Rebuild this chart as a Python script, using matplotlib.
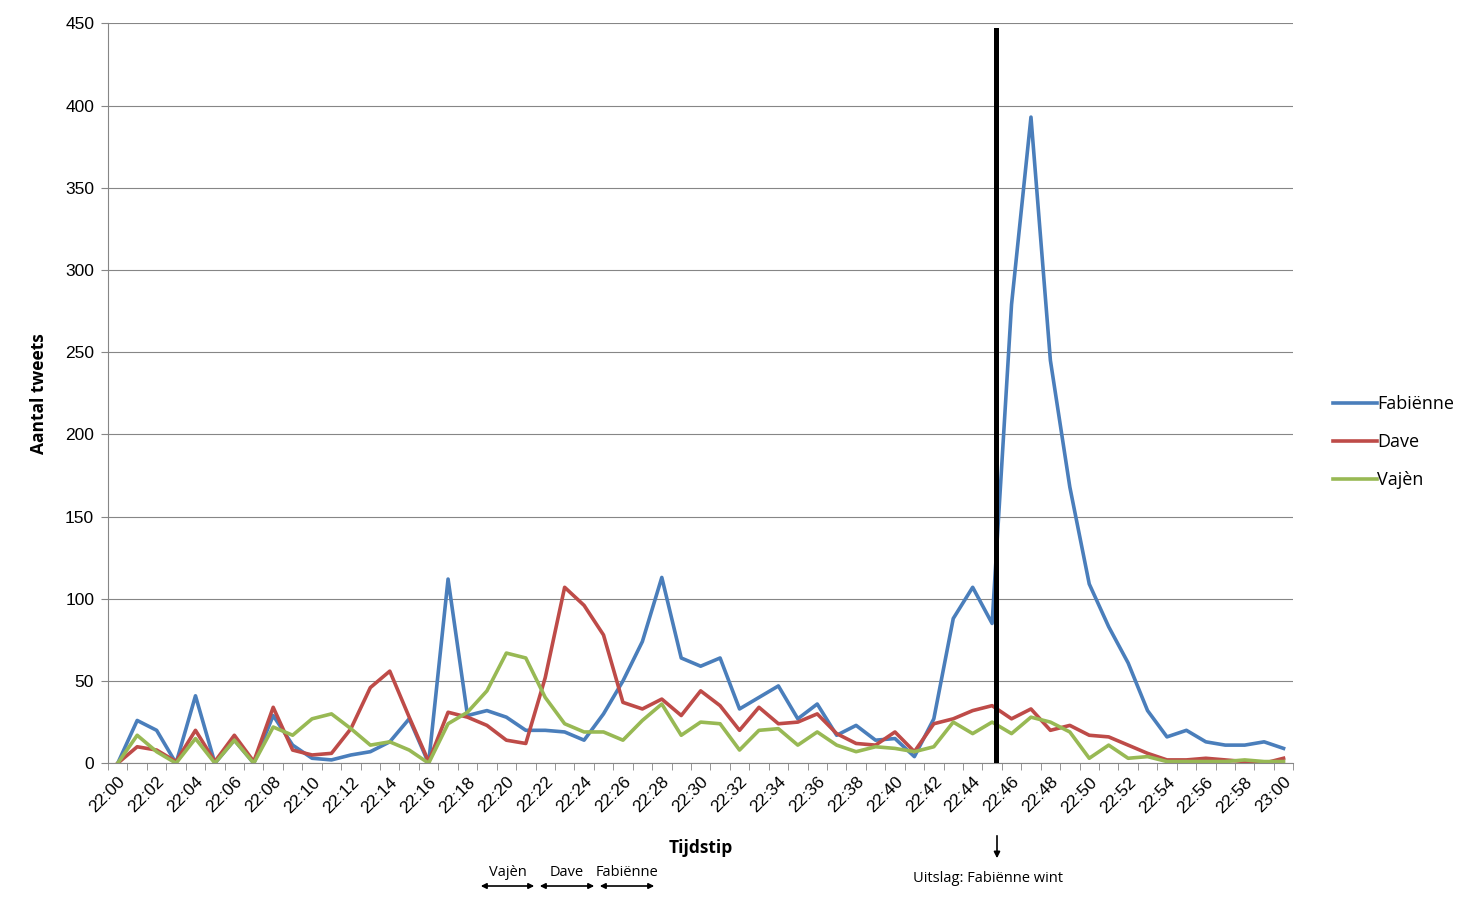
import numpy as np
import matplotlib.pyplot as plt

# tweets per minute, 22:00 - 23:00
fabienne = [0, 26, 20, 0, 41, 0, 14, 0, 29, 11, 3, 2, 5, 7, 13, 27, 0, 112, 29, 32,
            28, 20, 20, 19, 14, 30, 50, 74, 113, 64, 59, 64, 33, 40, 47, 27, 36, 17, 23, 14,
            15, 4, 27, 88, 107, 85, 279, 393, 245, 168, 109, 83, 61, 32, 16, 20, 13, 11, 11, 13,
            9]
dave = [0, 10, 8, 1, 20, 1, 17, 1, 34, 8, 5, 6, 21, 46, 56, 28, 1, 31, 28, 23,
        14, 12, 52, 107, 96, 78, 37, 33, 39, 29, 44, 35, 20, 34, 24, 25, 30, 18, 12, 11,
        19, 7, 24, 27, 32, 35, 27, 33, 20, 23, 17, 16, 11, 6, 2, 2, 3, 2, 1, 0,
        3]
vajen = [0, 17, 7, 0, 15, 0, 14, 0, 22, 17, 27, 30, 21, 11, 13, 8, 0, 24, 31, 44,
         67, 64, 40, 24, 19, 19, 14, 26, 36, 17, 25, 24, 8, 20, 21, 11, 19, 11, 7, 10,
         9, 7, 10, 25, 18, 25, 18, 28, 25, 19, 3, 11, 3, 4, 1, 1, 1, 1, 2, 1,
         1]
labels = ["22:%02d" % m for m in range(60)] + ["23:00"]
result_time = 45.2  # uitslag

x = np.arange(len(labels))

fig = plt.figure(figsize=(14.76, 9), dpi=100)
ax = fig.add_axes([0.0732, 0.152, 0.803, 0.822])

ax.plot(x, fabienne, color="#4A7EBB", lw=2.6, label="Fabiënne")
ax.plot(x, dave, color="#BE4B48", lw=2.6, label="Dave")
ax.plot(x, vajen, color="#98B954", lw=2.6, label="Vajèn")
ax.plot([result_time, result_time], [0, 446], color="black", lw=3.6, zorder=5)

ax.set_xlim(-0.5, 60.5)
ax.set_ylim(0, 450)
ax.set_yticks(np.arange(0, 451, 50))
ax.yaxis.grid(True, color="#868686", lw=0.8)
ax.set_axisbelow(True)
ax.set_xticks(x[::2])
ax.set_xticklabels(labels[::2], rotation=45, ha="right", rotation_mode="anchor",
                   family="Liberation Sans", fontsize=12.5)
ax.set_xticks(np.arange(-0.5, 61, 1), minor=True)
ax.tick_params(axis="x", which="major", length=0, pad=8)
ax.tick_params(axis="x", which="minor", length=5, color="#868686", direction="out")
ax.tick_params(axis="y", length=5, color="#868686", labelsize=12.5, pad=5)
for t in ax.get_yticklabels():
    t.set_family("Liberation Sans")
for s in ["top", "right"]:
    ax.spines[s].set_visible(False)
ax.spines["left"].set_color("#868686")
ax.spines["bottom"].set_color("#868686")

ax.set_ylabel("Aantal tweets", family="Open Sans", fontweight="bold", fontsize=12.5, labelpad=12)
fig.text(0.475, 0.058, "Tijdstip", family="Open Sans", fontweight="bold", fontsize=12.5,
         ha="center", va="center")

leg = ax.legend(loc="center left", bbox_to_anchor=(1.02, 0.434), frameon=False,
                prop={"family": "Open Sans", "size": 13}, handlelength=2.4,
                handletextpad=0.05, labelspacing=1.1)

# order of performances
for name, x0, x1 in [("Vajèn", 478, 537), ("Dave", 537, 597), ("Fabiënne", 597, 657)]:
    fig.patches.append(plt.matplotlib.patches.FancyArrowPatch(
        (x0 / 1476, 1 - 886 / 900), (x1 / 1476, 1 - 886 / 900), transform=fig.transFigure,
        arrowstyle="<|-|>", mutation_scale=8, color="black", lw=1.2))
    fig.text((x0 + x1) / 2 / 1476, 1 - 873 / 900, name, family="Open Sans", fontsize=10.5,
             ha="center", va="center")

fig.patches.append(plt.matplotlib.patches.FancyArrowPatch(
    (997 / 1476, 1 - 833 / 900), (997 / 1476, 1 - 861 / 900), transform=fig.transFigure,
    arrowstyle="-|>", mutation_scale=9, color="black", lw=1.2))
fig.text(988 / 1476, 1 - 879 / 900, "Uitslag: Fabiënne wint", family="Open Sans", fontsize=10.5,
         ha="center", va="center")

fig.savefig("out.png", dpi=100)
